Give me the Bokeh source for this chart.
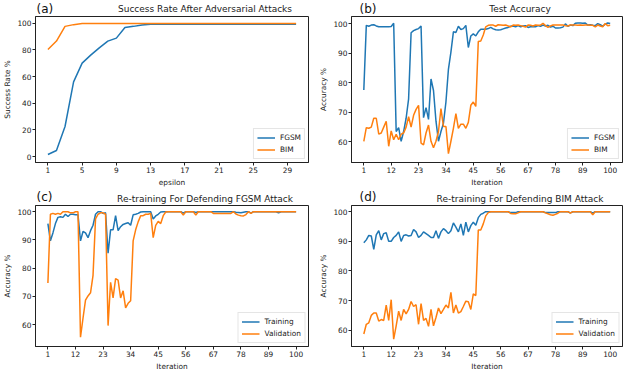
from bokeh.plotting import figure
from bokeh.layouts import gridplot
from bokeh.models import Range1d, FixedTicker, Label, Legend, LegendItem
from bokeh.embed import file_html
from bokeh.resources import INLINE

BLUE = "#1f77b4"
ORANGE = "#ff7f0e"
FONT = "DejaVu Sans"

# ---------------- data ----------------
epsilon = list(range(1, 31))
fgsm_success = [1.5, 4.5, 22.5, 56, 70, 76, 81.5, 86.5, 88.8, 96.8, 97.6, 98.6, 99.1, 99.2, 99.2,
                99.2, 99.2, 99.2, 99.2, 99.2, 99.2, 99.2, 99.2, 99.2, 99.2, 99.2, 99.2, 99.2, 99.2, 99.2]
bim_success = [80.3, 86.6, 97.6, 98.9, 99.7, 99.8, 99.8, 99.8, 99.8, 99.8, 99.8, 99.8, 99.8, 99.8, 99.8,
               99.8, 99.8, 99.8, 99.8, 99.8, 99.8, 99.8, 99.8, 99.8, 99.8, 99.8, 99.8, 99.8, 99.8, 99.8]
eps_ticks = [1, 5, 9, 13, 17, 21, 25, 29]

iteration = list(range(1, 101))
iter_ticks = [1, 12, 23, 34, 45, 56, 67, 78, 89, 100]

test_fgsm = [77.6, 99.5, 99.2, 99.6, 99.7, 99.3, 99.0, 99.0, 99.0, 99.0,
             99.0, 99.1, 100.2, 63.5, 64.8, 60.2, 63.5, 68.0, 74.6, 97.0,
             97.7, 98.1, 98.4, 99.3, 68.2, 71.6, 67.6, 81.3, 77.4, 67.0,
             60.2, 63.5, 66.3, 73.5, 84.6, 90.4, 97.3, 97.1, 99.2, 98.1,
             98.4, 99.5, 92.0, 95.9, 96.6, 95.9, 97.3, 98.2, 98.2, 98.2,
             98.4, 98.8, 98.3, 98.0, 97.9, 98.0, 98.3, 98.6, 98.8, 99.2,
             99.3, 99.0, 99.4, 99.0, 99.3, 99.4, 98.8, 99.0, 99.1, 99.0,
             99.4, 99.2, 99.6, 99.3, 99.5, 98.9, 99.2, 98.6, 98.6, 98.7,
             98.9, 100.0, 99.2, 99.6, 99.4, 100.2, 100.3, 100.3, 100.2, 100.3,
             99.6, 99.7, 99.5, 99.4, 100.1, 99.7, 99.2, 99.9, 100.3, 100.1]
test_bim = [60.2, 64.8, 64.6, 65.0, 68.0, 68.0, 62.6, 63.0, 65.0, 67.0,
            58.5, 63.7, 60.7, 62.6, 60.7, 62.6, 63.0, 65.0, 68.5, 65.0,
            69.0, 71.0, 72.4, 59.6, 59.0, 63.0, 65.7, 60.2, 58.0, 60.2,
            63.5, 71.3, 65.2, 65.2, 56.0, 60.2, 64.6, 69.6, 64.6, 66.0,
            66.0, 64.6, 66.6, 72.4, 73.5, 72.0, 94.0, 94.2, 96.2, 99.0,
            99.5, 99.6, 99.6, 99.2, 99.7, 99.6, 99.5, 99.6, 99.3, 99.0,
            99.6, 99.5, 99.6, 99.4, 99.2, 98.9, 99.6, 99.5, 99.3, 99.6,
            99.5, 99.6, 100.2, 99.4, 98.8, 99.3, 99.6, 99.6, 99.6, 99.6,
            99.6, 99.4, 99.3, 99.6, 99.6, 99.6, 99.5, 99.6, 99.5, 99.6,
            99.6, 99.5, 99.5, 99.0, 99.6, 99.3, 99.0, 100.1, 99.4, 99.5]

fgsm_train = [95.8, 89.7, 92.5, 95.8, 98.0, 98.2, 98.0, 99.1, 98.3, 99.1,
              99.1, 98.9, 98.9, 89.7, 93.0, 92.5, 90.8, 93.3, 95.2, 99.1,
              100.0, 100.0, 99.4, 99.6, 85.3, 93.6, 93.6, 98.6, 93.3, 94.7,
              95.5, 95.8, 96.1, 95.2, 98.9, 99.1, 99.4, 99.9, 100.0, 100.0,
              100.0, 100.0, 97.4, 98.5, 99.1, 99.9, 100.0, 100.0, 100.0, 100.0,
              100.0, 100.0, 100.0, 100.0, 99.5, 100.0, 100.0, 100.0, 100.0, 99.7,
              100.0, 100.0, 100.0, 100.0, 100.0, 100.0, 100.0, 100.0, 100.0, 100.0,
              100.0, 100.0, 100.0, 100.0, 100.0, 99.8, 99.7, 99.6, 99.8, 100.0,
              100.0, 99.5, 100.0, 100.0, 100.0, 100.0, 100.0, 100.0, 100.0, 100.0,
              100.0, 100.0, 99.6, 100.0, 100.0, 100.0, 100.0, 100.0, 100.0, 100.0]
fgsm_val = [74.8, 99.1, 99.4, 99.1, 99.4, 99.1, 100.0, 100.0, 100.0, 99.6,
            99.6, 100.0, 100.0, 55.6, 62.3, 68.7, 70.2, 71.3, 77.5, 97.5,
            99.1, 99.6, 99.6, 99.1, 59.7, 75.0, 69.5, 76.3, 75.8, 69.5,
            72.0, 66.0, 67.6, 68.5, 89.7, 93.6, 96.4, 98.6, 98.6, 99.1,
            99.1, 99.4, 90.8, 95.2, 96.6, 95.8, 98.6, 99.9, 100.0, 100.0,
            100.0, 100.0, 100.0, 100.0, 98.8, 100.0, 100.0, 100.0, 100.0, 98.8,
            100.0, 100.0, 100.0, 100.0, 100.0, 100.0, 99.4, 99.4, 99.4, 99.4,
            99.4, 99.4, 99.4, 99.4, 100.0, 99.2, 98.8, 98.6, 98.5, 99.0,
            100.0, 99.4, 100.0, 100.0, 100.0, 100.0, 100.0, 100.0, 100.0, 100.0,
            100.0, 100.0, 100.0, 100.0, 100.0, 100.0, 100.0, 100.0, 100.0, 100.0]

bim_train = [89.5, 90.5, 92.0, 91.8, 87.3, 92.2, 93.6, 90.5, 92.6, 92.9,
             90.0, 90.0, 91.3, 92.0, 93.2, 90.0, 92.0, 92.2, 91.8, 92.0,
             94.0, 93.2, 91.3, 92.0, 93.2, 92.6, 92.0, 91.3, 91.3, 93.6,
             91.0, 93.2, 94.3, 93.6, 92.6, 93.6, 96.2, 94.8, 93.2, 95.9,
             92.0, 96.5, 93.2, 95.3, 96.5, 95.4, 98.0, 99.1, 99.5, 100.0,
             100.0, 100.0, 100.0, 100.0, 100.0, 100.0, 100.0, 100.0, 100.0, 99.7,
             99.7, 99.7, 100.0, 100.0, 100.0, 100.0, 100.0, 100.0, 100.0, 100.0,
             100.0, 100.0, 100.0, 99.7, 99.7, 99.7, 99.7, 99.7, 100.0, 100.0,
             100.0, 100.0, 100.0, 99.6, 100.0, 100.0, 100.0, 100.0, 100.0, 100.0,
             100.0, 100.0, 99.5, 100.0, 100.0, 100.0, 100.0, 100.0, 100.0, 100.0]
bim_val = [58.7, 62.0, 62.5, 65.0, 65.8, 65.8, 63.1, 63.6, 63.3, 68.5,
           63.3, 70.3, 57.0, 61.5, 66.4, 63.3, 67.0, 65.5, 67.0, 69.7,
           68.0, 68.6, 62.0, 69.0, 63.3, 64.0, 61.3, 67.0, 61.5, 64.3,
           67.5, 65.6, 67.0, 68.5, 67.5, 72.8, 65.8, 68.5, 65.8, 66.3,
           68.0, 69.8, 69.6, 67.0, 72.3, 71.7, 93.8, 93.8, 95.9, 98.6,
           99.7, 100.0, 100.0, 100.0, 100.0, 100.0, 100.0, 100.0, 100.0, 99.4,
           99.3, 99.3, 99.6, 100.0, 100.0, 100.0, 100.0, 100.0, 100.0, 100.0,
           100.0, 100.0, 100.0, 99.6, 99.3, 99.0, 98.8, 99.1, 99.5, 100.0,
           100.0, 100.0, 100.0, 99.5, 100.0, 100.0, 100.0, 100.0, 100.0, 100.0,
           100.0, 100.0, 99.0, 100.0, 100.0, 100.0, 100.0, 100.0, 100.0, 100.0]

acc_ticks = [60, 70, 80, 90, 100]
succ_ticks = [0, 20, 40, 60, 80, 100]

LEFT, BOTTOM, TOP = 31, 24, 1


def header(width, height, right, tag, tag_x, tag_top, title, title_mid):
    """Thin strip above a panel that holds the panel tag and the title."""
    h = figure(width=width, height=height, output_backend="svg", toolbar_location=None,
               x_range=Range1d(0, width), y_range=Range1d(0, height),
               x_axis_location=None, y_axis_location=None, min_border=0)
    h.grid.visible = False
    h.outline_line_color = None
    h.border_fill_color = "white"
    h.add_layout(Label(x=tag_x, y=tag_top, x_units="screen", y_units="screen",
                       text=tag, text_font=FONT, text_font_size="12px",
                       text_baseline="top", text_align="left", text_color="#111111"))
    frame_center = LEFT + (width - LEFT - right) / 2
    h.add_layout(Label(x=frame_center, y=title_mid, x_units="screen", y_units="screen",
                       text=title, text_font=FONT, text_font_size="9px",
                       text_baseline="middle", text_align="center", text_color="#222222"))
    return h


def panel(width, height, right, xr, yr, xticks, yticks, xlabel, ylabel, series, names):
    p = figure(width=width, height=height, output_backend="svg", toolbar_location=None,
               x_range=Range1d(*xr), y_range=Range1d(*yr),
               min_border_left=LEFT, min_border_right=right,
               min_border_top=TOP, min_border_bottom=BOTTOM)
    p.grid.visible = False
    p.outline_line_color = "#222222"
    p.outline_line_width = 1
    p.outline_line_alpha = 1
    p.border_fill_color = "white"
    for ax in (p.xaxis[0], p.yaxis[0]):
        ax.axis_line_color = "#222222"
        ax.major_tick_line_color = "#222222"
        ax.major_tick_out = 3
        ax.major_tick_in = 0
        ax.minor_tick_out = 0
        ax.minor_tick_in = 0
        ax.major_label_text_font = FONT
        ax.major_label_text_font_size = "7.4px"
        ax.major_label_text_color = "#222222"
        ax.major_label_standoff = 1
        ax.axis_label_text_font = FONT
        ax.axis_label_text_font_size = "7.4px"
        ax.axis_label_text_font_style = "normal"
        ax.axis_label_text_color = "#222222"
        ax.axis_label_standoff = 2
    p.xaxis.ticker = FixedTicker(ticks=xticks)
    p.yaxis.ticker = FixedTicker(ticks=yticks)
    p.xaxis.axis_label = xlabel
    p.yaxis.axis_label = ylabel

    xs, ys1, ys2 = series
    r1 = p.line(xs, ys1, line_color=BLUE, line_width=1.5)
    r2 = p.line(xs, ys2, line_color=ORANGE, line_width=1.5)
    legend = Legend(items=[LegendItem(label=names[0], renderers=[r1]),
                           LegendItem(label=names[1], renderers=[r2])],
                    location="bottom_right")
    legend.label_text_font = FONT
    legend.label_text_font_size = "7.4px"
    legend.label_text_color = "#222222"
    legend.label_height = 11
    legend.label_standoff = 5
    legend.glyph_width = 18
    legend.glyph_height = 11
    legend.spacing = 1
    legend.padding = 3
    legend.margin = 3
    legend.border_line_color = "#cccccc"
    legend.border_line_width = 1
    legend.background_fill_alpha = 0.8
    p.add_layout(legend)
    return p


W_L, W_R = 316, 308
R_L, R_R = 8, 2
H_HEAD_TOP, H_TOP = 15, 174
H_HEAD_BOT, H_BOT = 15, 169

ha = header(W_L, H_HEAD_TOP, R_L, "(a)", 1, 14, "Success Rate After Adversarial Attacks", 7)
hb = header(W_R, H_HEAD_TOP, R_R, "(b)", 8, 14, "Test Accuracy", 7)
hc = header(W_L, H_HEAD_BOT, R_L, "(c)", 1, 15, "Re-training For Defending FGSM Attack", 6)
hd = header(W_R, H_HEAD_BOT, R_R, "(d)", 8, 15, "Re-training For Defending BIM Attack", 6)

pa = panel(W_L, H_TOP, R_L, (-0.45, 31.45), (-4.5, 105.0), eps_ticks, succ_ticks,
           "epsilon", "Success Rate %", (epsilon, fgsm_success, bim_success), ("FGSM", "BIM"))
pb = panel(W_R, H_TOP, R_R, (-3.95, 104.95), (53.0, 102.5), iter_ticks, acc_ticks,
           "Iteration", "Accuracy %", (iteration, test_fgsm, test_bim), ("FGSM", "BIM"))
pc = panel(W_L, H_BOT, R_L, (-3.95, 104.95), (52.3, 102.2), iter_ticks, acc_ticks,
           "Iteration", "Accuracy %", (iteration, fgsm_train, fgsm_val), ("Training", "Validation"))
pd_ = panel(W_R, H_BOT, R_R, (-3.95, 104.95), (54.5, 102.1), iter_ticks, acc_ticks,
            "Iteration", "Accuracy %", (iteration, bim_train, bim_val), ("Training", "Validation"))

grid = gridplot([[ha, hb], [pa, pb], [hc, hd], [pc, pd_]], toolbar_location=None)
open("out.html", "w").write(file_html(grid, INLINE))
